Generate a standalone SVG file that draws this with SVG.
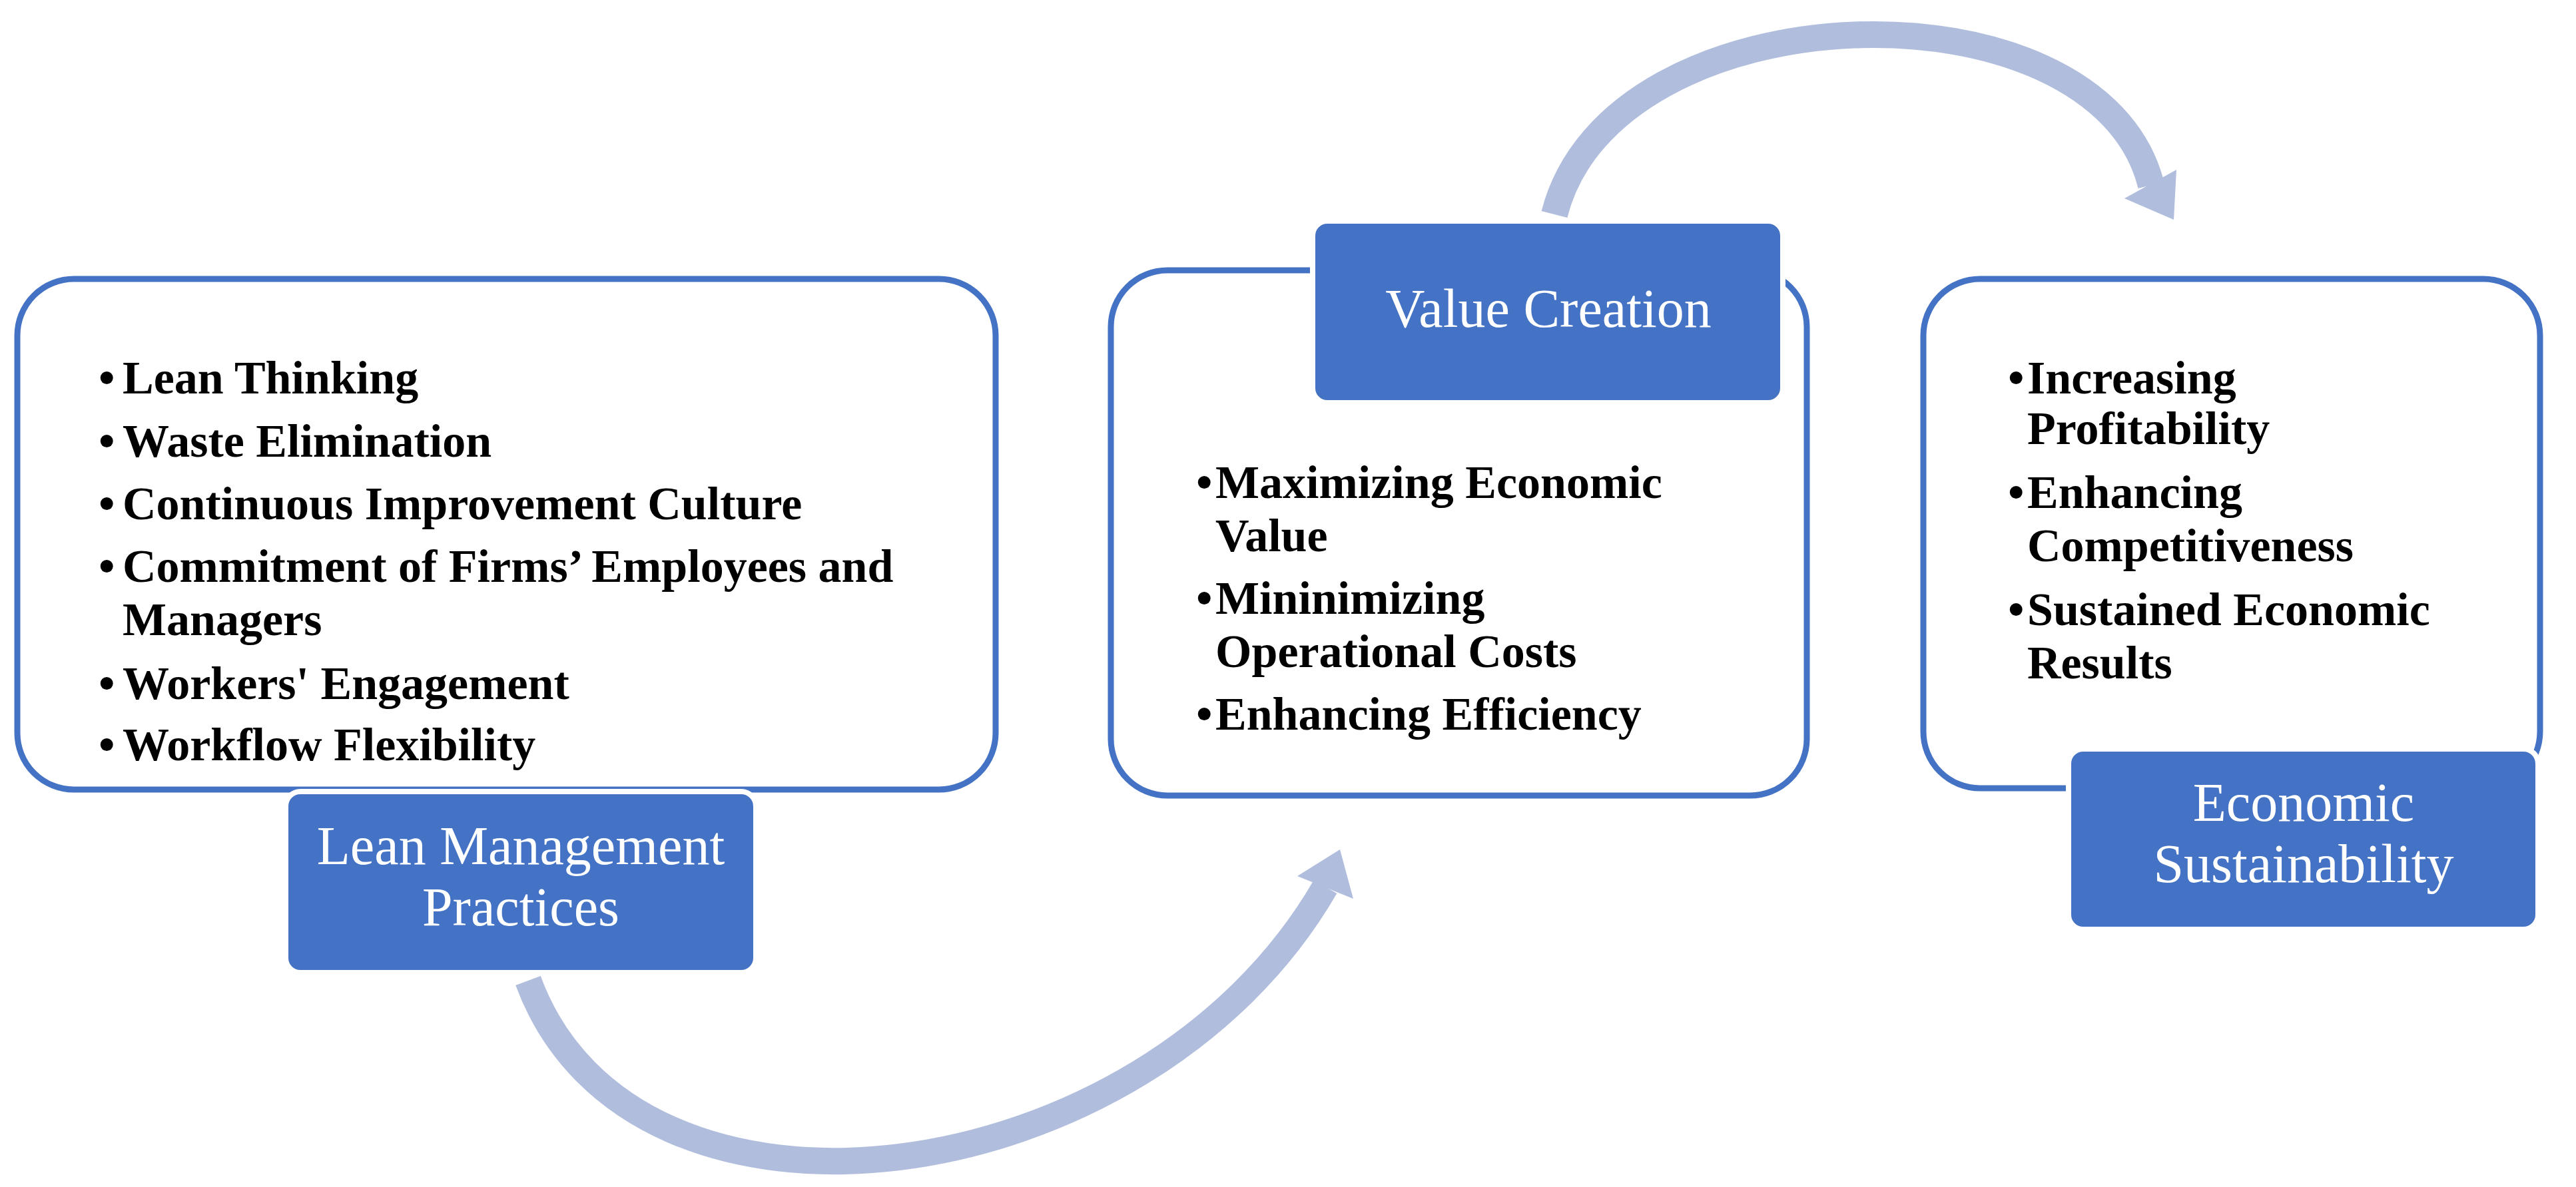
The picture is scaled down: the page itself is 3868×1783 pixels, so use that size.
<svg xmlns="http://www.w3.org/2000/svg" width="3868" height="1783" viewBox="0 0 3868 1783">
<style>
.frame{fill:#fff;stroke:#4472C4;stroke-width:9}
.hdr{fill:#4472C4;stroke:#fff;stroke-width:8}
.ht{font-family:"Liberation Serif",serif;font-size:82px;fill:#fff;text-anchor:middle}
.bt{font-family:"Liberation Serif",serif;font-size:70px;font-weight:bold;fill:#000}
.arc{fill:none;stroke:#B0BDDD;stroke-width:40}
.head{fill:#B0BDDD}
</style>
<rect width="3868" height="1783" fill="#fff"/>
<g id="connectors">
<path class="arc" d="M793,1473 C950,1900 1720,1800 1990,1332"/>
<polygon class="head" points="2012,1276 1948,1316 2032,1350"/>
<path class="arc" d="M2334,322 C2420,-20 3150,-40 3230,278"/>
<polygon class="head" points="3264,330 3190,298 3268,255"/>
</g>
<g id="lean">
<rect class="frame" x="26" y="419" width="1469" height="767" rx="85"/>
<text class="bt" x="148" y="591">•<tspan x="184">Lean Thinking</tspan></text>
<text class="bt" x="148" y="686">•<tspan x="184">Waste Elimination</tspan></text>
<text class="bt" x="148" y="780">•<tspan x="184">Continuous Improvement Culture</tspan></text>
<text class="bt" x="148" y="874">•<tspan x="184">Commitment of Firms’ Employees and</tspan></text>
<text class="bt" x="184" y="954">Managers</text>
<text class="bt" x="148" y="1050">•<tspan x="184">Workers' Engagement</tspan></text>
<text class="bt" x="148" y="1142">•<tspan x="184">Workflow Flexibility</tspan></text>
<rect class="hdr" x="429" y="1189" width="706" height="272" rx="22"/>
<text class="ht" x="782" y="1298">Lean Management</text>
<text class="ht" x="782" y="1390">Practices</text>
</g>
<g id="value">
<rect class="frame" x="1668" y="406" width="1045" height="789" rx="85"/>
<text class="bt" x="1796" y="748">•<tspan x="1825">Maximizing Economic</tspan></text>
<text class="bt" x="1825" y="828">Value</text>
<text class="bt" x="1796" y="922">•<tspan x="1825">Mininimizing</tspan></text>
<text class="bt" x="1825" y="1002">Operational Costs</text>
<text class="bt" x="1796" y="1096">•<tspan x="1825">Enhancing Efficiency</tspan></text>
<rect class="hdr" x="1971" y="332" width="706" height="273" rx="22"/>
<text class="ht" x="2325" y="491">Value Creation</text>
</g>
<g id="econ">
<rect class="frame" x="2888" y="419" width="926" height="765" rx="85"/>
<text class="bt" x="3015" y="591">•<tspan x="3044">Increasing</tspan></text>
<text class="bt" x="3044" y="667">Profitability</text>
<text class="bt" x="3015" y="763">•<tspan x="3044">Enhancing</tspan></text>
<text class="bt" x="3044" y="843">Competitiveness</text>
<text class="bt" x="3015" y="939">•<tspan x="3044">Sustained Economic</tspan></text>
<text class="bt" x="3044" y="1019">Results</text>
<rect class="hdr" x="3106" y="1125" width="705" height="271" rx="22"/>
<text class="ht" x="3459" y="1233">Economic</text>
<text class="ht" x="3459" y="1325">Sustainability</text>
</g>
</svg>
